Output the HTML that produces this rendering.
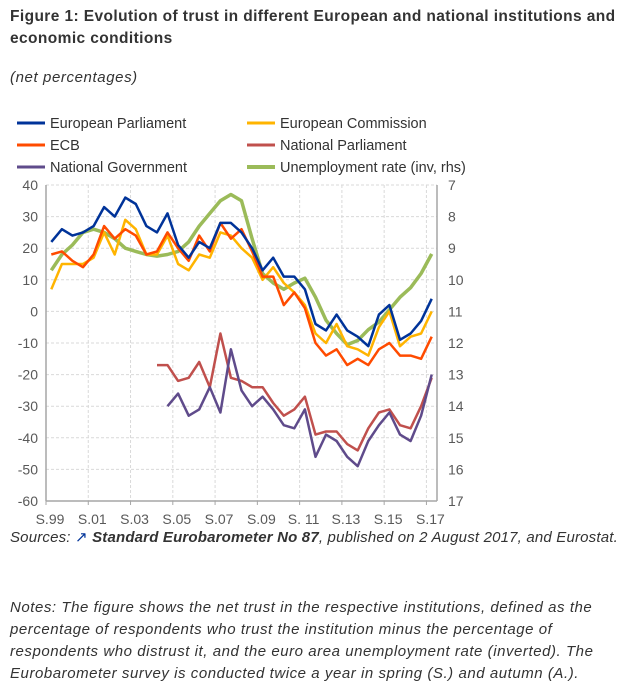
<!DOCTYPE html>
<html><head><meta charset="utf-8">
<style>
body{margin:0;background:#fff;width:630px;height:691px;overflow:hidden;font-family:"Liberation Sans",sans-serif;color:#333;}
#title{position:absolute;left:10px;top:6px;font-weight:bold;font-size:15.5px;line-height:22px;width:618px;color:#333;letter-spacing:0.4px;}
#sub{position:absolute;left:10px;top:69px;font-style:italic;font-size:15px;letter-spacing:0.6px;}
#src{position:absolute;left:10px;top:528px;font-style:italic;font-size:15px;letter-spacing:0.18px;white-space:nowrap;}
#notes{position:absolute;left:10px;top:597px;font-style:italic;font-size:15px;line-height:22px;width:618px;letter-spacing:0.55px;}
svg{position:absolute;left:0;top:0;}
</style></head><body>
<div id="title">Figure 1: Evolution of trust in different European and national institutions and economic conditions</div>
<div id="sub">(net percentages)</div>
<svg id="chart" width="630" height="691"></svg>
<div id="src">Sources: <span style="color:#003399;font-style:normal">&#x2197;</span> <b>Standard Eurobarometer No 87</b>, published on 2 August 2017, and Eurostat.</div>
<div id="notes">Notes: The figure shows the net trust in the respective institutions, defined as the percentage of respondents who trust the institution minus the percentage of respondents who distrust it, and the euro area unemployment rate (inverted). The Eurobarometer survey is conducted twice a year in spring (S.) and autumn (A.).</div>
<script>
const xLabels=["S.99","S.01","S.03","S.05","S.07","S.09","S. 11","S.13","S.15","S.17"];
const leftTicks=[40,30,20,10,0,-10,-20,-30,-40,-50,-60];
const rightTicks=[7,8,9,10,11,12,13,14,15,16,17];
const europeanParliament=[22,26,24,25,27,33,30,36,34,27,25,31,21,17,22,20,28,28,25,20,13,17,11,11,7,-4,-6,-1,-6,-8,-11,-1,2,-9,-7,-3,4];
const europeanCommission=[7,15,15,15,17,25,18,29,26,18,18,24,15,13,18,17,25,24,20,17,10,14,9,6,2,-7,-10,-4,-11,-12,-14,-5,0,-11,-8,-7,0];
const ecb=[18,19,16,14,18,27,23,26,24,18,19,25,20,16,24,19,28,23,26,19,11,11,2,6,1,-10,-14,-12,-17,-15,-17,-12,-10,-14,-14,-15,-8];
const nationalParliament=[null,null,null,null,null,null,null,null,null,null,-17,-17,-22,-21,-16,-24,-7,-21,-22,-24,-24,-29,-33,-31,-27,-39,-38,-38,-42,-44,-37,-32,-31,-36,-37,-30,-21];
const nationalGovernment=[null,null,null,null,null,null,null,null,null,null,null,-30,-26,-33,-31,-24,-32,-12,-25,-30,-27,-31,-36,-37,-31,-46,-39,-41,-46,-49,-41,-36,-32,-39,-41,-33,-20];
const unemployment=[9.7,9.2,8.9,8.5,8.4,8.5,8.7,9.0,9.1,9.2,9.25,9.2,9.1,8.8,8.3,7.9,7.5,7.3,7.5,8.7,9.8,10.1,10.3,10.1,9.95,10.55,11.28,11.7,12.05,11.92,11.58,11.34,10.95,10.55,10.25,9.8,9.18];

const svg=document.getElementById('chart');
const NS="http://www.w3.org/2000/svg";
const L=46,R=437,T=185,B=501,N=37;
const step=(R-L)/N;
const xs=i=>L+step*(i+0.5);
const yL=v=>T+(40-v)/100*(B-T);
const yR=u=>T+(u-7)/10*(B-T);
function el(t,a){const e=document.createElementNS(NS,t);for(const k in a)e.setAttribute(k,a[k]);svg.appendChild(e);return e;}
leftTicks.forEach(v=>{const y=yL(v);
 const g=el('line',{x1:L,x2:R,y1:y,y2:y,stroke:'#d9d9d9','stroke-dasharray':'3,2'});
 
 
 const t=el('text',{x:38,y:y+5,'text-anchor':'end','font-size':14,fill:'#595959'});t.textContent=v;
 
 
});
rightTicks.forEach(u=>{const y=yR(u);
 const t=el('text',{x:448,y:y+5,'font-size':14,fill:'#595959'});t.textContent=u;
 
 
});
xLabels.forEach((s,k)=>{const x=L+step*4*k;
 if(k>0){const g=el('line',{x1:x,x2:x,y1:T,y2:B,stroke:'#d9d9d9','stroke-dasharray':'3,2'});
 
 }
 const tk=el('line',{x1:x,x2:x,y1:B,y2:B+4,stroke:'#a6a6a6'});
 
 
 const t=el('text',{x:x+4,y:524,'text-anchor':'middle','font-size':14,fill:'#595959'});t.textContent=s;
 
 
});
const ax1=el('line',{x1:L,x2:L,y1:T,y2:B,stroke:'#a6a6a6','stroke-width':1.5});


const ax2=el('line',{x1:R,x2:R,y1:T,y2:B,stroke:'#a6a6a6','stroke-width':1.5});


const ax3=el('line',{x1:L,x2:R,y1:B,y2:B,stroke:'#a6a6a6','stroke-width':1.5});


function series(arr,yf,color,w,name){
 let d='',pen=false;
 arr.forEach((v,i)=>{if(v==null){pen=false;return;}d+=(pen?'L':'M')+xs(i).toFixed(1)+','+yf(v).toFixed(1);pen=true;});
 const p=el('path',{d:d,fill:'none',stroke:color,'stroke-width':w,'stroke-linejoin':'round'});
 
 
}
series(unemployment,yR,'#9bbb59',3.5,'unemployment-line');
series(europeanCommission,yL,'#ffb400',2.5,'european-commission-line');
series(ecb,yL,'#ff4b00',2.5,'ecb-line');
series(europeanParliament,yL,'#003399',2.5,'european-parliament-line');
series(nationalParliament,yL,'#c0504d',2.5,'national-parliament-line');
series(nationalGovernment,yL,'#5f4b8b',2.5,'national-government-line');
const leg=[["European Parliament",'#003399',17,123],["European Commission",'#ffb400',247,123],["ECB",'#ff4b00',17,145],["National Parliament",'#c0504d',247,145],["National Government",'#5f4b8b',17,167],["Unemployment rate (inv, rhs)",'#9bbb59',247,167]];
leg.forEach(([n,c,x,y])=>{
 const s=el('line',{x1:x,x2:x+28,y1:y,y2:y,stroke:c,'stroke-width':n.startsWith('Unemp')?4:3});
 
 
 const t=el('text',{x:x+33,y:y+5,'font-size':14.5,fill:'#333'});t.textContent=n;
 
 
});
</script>
</body></html>
